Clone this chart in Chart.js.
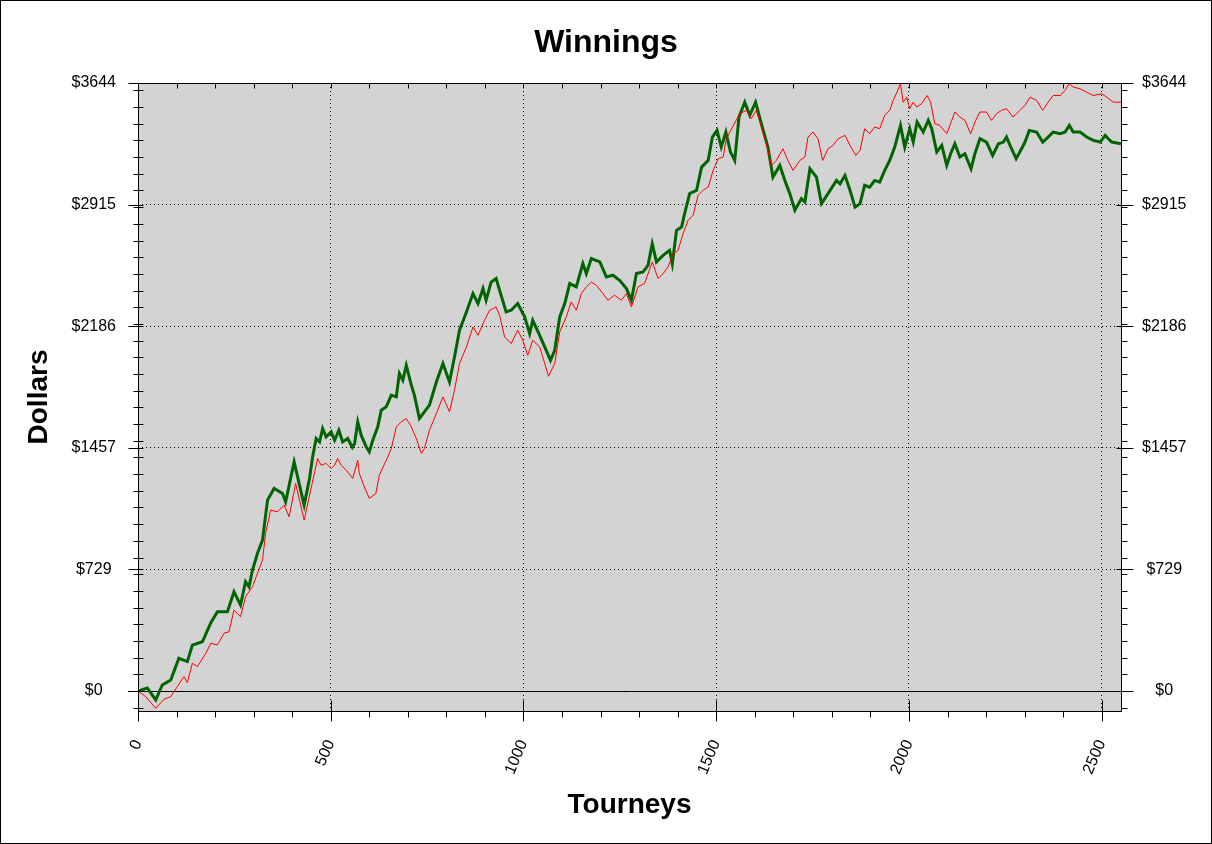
<!DOCTYPE html>
<html>
<head>
<meta charset="utf-8">
<title>Winnings</title>
<script src="https://cdn.jsdelivr.net/npm/chart.js@4.4.1/dist/chart.umd.min.js"></script>
<style>
    html, body { margin: 0; padding: 0; background: #fff; }
    #wrap { width: 1212px; height: 844px; box-sizing: border-box; border: 1px solid #000; }
    canvas { display: block; }
</style>
</head>
<body>
<div id="wrap"><canvas id="winningsChart" width="1210" height="842"></canvas></div>
<script>

// tick labels
const xTicks = [0, 500, 1000, 1500, 2000, 2500];
const yTicks = [0, 729, 1457, 2186, 2915, 3644];
const yTickLabels = ["$0", "$729", "$1457", "$2186", "$2915", "$3644"];

// red series
const redTourneys = [0, 20, 46, 67, 85, 102, 119, 128, 141, 154, 176, 189, 206, 223, 236, 249, 266, 279, 297, 310,
    323, 331, 344, 362, 379, 392, 409, 431, 448, 466, 475, 488, 501, 510, 518, 527, 540, 557, 570, 574,
    587, 600, 617, 626, 644, 657, 670, 683, 696, 709, 722, 735, 743, 756, 774, 791, 808, 821, 834, 852,
    869, 882, 899, 912, 929, 938, 951, 968, 985, 998, 1011, 1024, 1042, 1055, 1065, 1081, 1094, 1111, 1124, 1137,
    1150, 1163, 1176, 1189, 1206, 1219, 1236, 1254, 1267, 1280, 1297, 1314, 1334, 1349, 1362, 1375, 1388, 1401, 1414, 1427,
    1440, 1453, 1466, 1479, 1492, 1505, 1518, 1526, 1561, 1578, 1591, 1604, 1617, 1630, 1643, 1656, 1673, 1686, 1699, 1717,
    1730, 1738, 1751, 1764, 1776, 1790, 1803, 1816, 1834, 1847, 1862, 1873, 1885, 1898, 1911, 1924, 1937, 1950, 1959, 1969,
    1978, 1985, 1994, 2002, 2011, 2020, 2033, 2047, 2056, 2067, 2080, 2098, 2111, 2119, 2132, 2145, 2160, 2171, 2184, 2201,
    2214, 2227, 2240, 2253, 2270, 2288, 2301, 2314, 2331, 2347, 2361, 2374, 2392, 2405, 2415, 2426, 2444, 2461, 2478, 2500,
    2513, 2530, 2550];
const redDollars = [0, -34, -104, -50, -34, 26, 86, 50, 166, 146, 226, 286, 276, 346, 355, 485, 445, 565, 625, 705,
    785, 944, 1084, 1074, 1114, 1044, 1244, 1024, 1204, 1393, 1353, 1364, 1334, 1353, 1393, 1353, 1324, 1274, 1383, 1304,
    1224, 1154, 1184, 1294, 1383, 1453, 1583, 1613, 1633, 1583, 1513, 1424, 1453, 1563, 1663, 1763, 1673, 1803, 1963, 2062,
    2182, 2132, 2222, 2282, 2302, 2252, 2122, 2082, 2162, 2102, 2012, 2102, 2062, 1963, 1886, 1963, 2152, 2242, 2332, 2282,
    2382, 2422, 2451, 2432, 2382, 2342, 2372, 2342, 2382, 2302, 2422, 2442, 2571, 2472, 2501, 2541, 2621, 2641, 2741, 2821,
    2851, 2971, 3001, 3020, 3120, 3190, 3200, 3310, 3460, 3480, 3430, 3480, 3380, 3280, 3150, 3180, 3250, 3180, 3120, 3180,
    3200, 3320, 3350, 3310, 3180, 3250, 3270, 3310, 3330, 3270, 3210, 3240, 3370, 3340, 3380, 3370, 3450, 3480, 3540, 3589,
    3640, 3529, 3559, 3490, 3529, 3500, 3520, 3569, 3529, 3400, 3390, 3340, 3420, 3470, 3440, 3420, 3340, 3410, 3470, 3470,
    3420, 3460, 3480, 3490, 3440, 3480, 3510, 3559, 3540, 3480, 3529, 3569, 3569, 3599, 3640, 3620, 3609, 3589, 3569, 3579,
    3559, 3529, 3529];

// green series
const greenTourneys = [0, 24, 46, 63, 85, 106, 128, 141, 167, 189, 206, 232, 249, 266, 279, 288, 297, 310, 323, 336,
    353, 375, 383, 405, 431, 445, 453, 462, 471, 479, 488, 501, 510, 521, 531, 544, 556, 562, 570, 579,
    592, 600, 609, 622, 631, 644, 657, 670, 678, 687, 696, 709, 717, 730, 743, 756, 765, 774, 791, 808,
    821, 834, 852, 869, 882, 895, 903, 916, 929, 938, 955, 968, 985, 1003, 1016, 1024, 1042, 1059, 1070, 1081,
    1094, 1107, 1120, 1137, 1154, 1163, 1176, 1198, 1215, 1232, 1250, 1267, 1280, 1293, 1310, 1323, 1334, 1345, 1362, 1379,
    1386, 1397, 1410, 1418, 1431, 1449, 1462, 1479, 1490, 1502, 1513, 1525, 1537, 1548, 1559, 1574, 1587, 1602, 1617, 1634,
    1647, 1665, 1678, 1691, 1704, 1721, 1730, 1743, 1760, 1773, 1790, 1812, 1821, 1834, 1847, 1860, 1873, 1885, 1898, 1911,
    1924, 1937, 1950, 1963, 1978, 1989, 2002, 2011, 2021, 2037, 2050, 2059, 2072, 2085, 2098, 2108, 2119, 2132, 2145, 2161,
    2171, 2184, 2201, 2217, 2232, 2245, 2253, 2266, 2278, 2292, 2301, 2312, 2331, 2347, 2361, 2374, 2392, 2405, 2416, 2426,
    2444, 2461, 2478, 2496, 2509, 2517, 2526, 2550];
const greenDollars = [0, 18, -54, 36, 66, 196, 176, 275, 295, 409, 475, 475, 595, 515, 655, 625, 725, 825, 904, 1144,
    1214, 1184, 1134, 1373, 1114, 1274, 1403, 1513, 1493, 1573, 1523, 1553, 1503, 1563, 1493, 1513, 1460, 1483, 1613, 1533,
    1463, 1433, 1503, 1583, 1683, 1703, 1773, 1763, 1903, 1863, 1952, 1833, 1773, 1633, 1673, 1713, 1783, 1852, 1963, 1852,
    2002, 2162, 2272, 2382, 2322, 2412, 2342, 2451, 2472, 2402, 2272, 2282, 2322, 2242, 2142, 2222, 2132, 2042, 1982, 2042,
    2242, 2322, 2442, 2422, 2562, 2502, 2592, 2572, 2482, 2492, 2460, 2412, 2342, 2502, 2511, 2551, 2681, 2571, 2611, 2641,
    2561, 2761, 2781, 2861, 2981, 3001, 3140, 3180, 3320, 3360, 3260, 3350, 3230, 3180, 3440, 3529, 3450, 3529, 3400, 3260,
    3080, 3150, 3060, 2981, 2881, 2951, 2931, 3130, 3080, 2921, 2981, 3060, 3040, 3090, 3001, 2900, 2921, 3031, 3020, 3060,
    3050, 3120, 3180, 3260, 3390, 3260, 3370, 3290, 3410, 3350, 3420, 3370, 3230, 3270, 3150, 3220, 3280, 3200, 3220, 3130,
    3220, 3310, 3290, 3210, 3280, 3290, 3320, 3250, 3190, 3250, 3290, 3360, 3350, 3290, 3320, 3350, 3340, 3350, 3390, 3350,
    3350, 3320, 3300, 3290, 3330, 3310, 3290, 3280];

const labelFont = { family: "'Liberation Sans', Arial, sans-serif", size: 16 };
const titleFont = { family: "'Liberation Sans', Arial, sans-serif", size: 28, weight: "bold" };

function points(xs, ys){
    return xs.map((x, i) => ({ x: x, y: ys[i] }));
}

function hline(ctx, x1, x2, y){
    ctx.beginPath();
    ctx.moveTo(x1, y);
    ctx.lineTo(x2, y);
    ctx.stroke();
}

function vline(ctx, x, y1, y2){
    ctx.beginPath();
    ctx.moveTo(x, y1);
    ctx.lineTo(x, y2);
    ctx.stroke();
}

// gray plot area, zero line, frame and the small tick marks
const framePlugin = {
    id: "frame",
    beforeDraw(chart){
        const ctx = chart.ctx;
        const a = chart.chartArea;
        ctx.save();
        ctx.fillStyle = "#d3d3d3";
        ctx.fillRect(a.left, a.top, a.right - a.left, a.bottom - a.top);
        ctx.restore();
    },
    beforeDatasetsDraw(chart){
        const ctx = chart.ctx;
        const a = chart.chartArea;
        const y0 = Math.round(chart.scales.y.getPixelForValue(0)) + 0.5;
        ctx.save();
        ctx.strokeStyle = "#000";
        ctx.lineWidth = 1;
        hline(ctx, a.left - 10, a.right + 12, y0);
        ctx.restore();
    },
    afterDatasetsDraw(chart){
        const ctx = chart.ctx;
        const a = chart.chartArea;
        const xs = chart.scales.x;
        const ys = chart.scales.y;
        const L = Math.round(a.left) + 0.5;
        const R = Math.round(a.right) + 0.5;
        const T = Math.round(a.top) + 0.5;
        const B = Math.round(a.bottom) + 0.5;
        ctx.save();
        ctx.strokeStyle = "#000";
        ctx.lineWidth = 1;
        ctx.setLineDash([]);
        ctx.strokeRect(L, T, R - L, B - T);

        for (let v = -100; v <= 3600; v += 100){
            const p = Math.round(ys.getPixelForValue(v)) + 0.5;
            hline(ctx, L - 5, L + 5, p);
            hline(ctx, R, R + 6, p);
        }
        yTicks.forEach(v => {
            const p = Math.round(ys.getPixelForValue(v)) + 0.5;
            hline(ctx, L - 10, L + 5, p);
            hline(ctx, R - 5, R + 12, p);
        });

        for (let t = 0; t <= 2500; t += 100){
            const p = Math.round(xs.getPixelForValue(t)) + 0.5;
            vline(ctx, p, B, B + 6);
            vline(ctx, p, T, T + 5);
        }
        xTicks.forEach(t => {
            const p = Math.round(xs.getPixelForValue(t)) + 0.5;
            vline(ctx, p, B - 11, B + 10);
        });
        ctx.restore();
    }
};

// dotted grid, but not on the zero line or along the frame
function dotted(ctx){
    if (!ctx.tick) return "#000";
    const v = ctx.tick.value;
    if (v === 0 || v === 3644) return "rgba(0,0,0,0)";
    return "#000";
}

function drawChart(){

    new Chart(

        document.getElementById("winningsChart"),

        {

            type: "line",

            data: {

                datasets: [

                    {
                        label: "red",
                        data: points(redTourneys, redDollars),
                        borderColor: "#ff0000",
                        borderWidth: 1,
                        pointRadius: 0,
                        tension: 0
                    },

                    {
                        label: "green",
                        data: points(greenTourneys, greenDollars),
                        borderColor: "#006400",
                        borderWidth: 3,
                        pointRadius: 0,
                        tension: 0
                    }

                ]

            },

            options: {

                responsive: false,
                animation: false,
                devicePixelRatio: 1,
                layout: { padding: 0 },

                plugins: {
                    legend: { display: false },
                    tooltip: { enabled: false },
                    title: {
                        display: true,
                        text: "Winnings",
                        color: "#000",
                        font: { family: "'Liberation Sans', Arial, sans-serif", size: 32, weight: "bold" },
                        padding: { top: 23, bottom: 20.6 }
                    }
                },

                scales: {

                    x: {
                        type: "linear",
                        position: "bottom",
                        min: 0,
                        max: 2550,
                        afterBuildTicks: s => { s.ticks = xTicks.map(v => ({ value: v })); },
                        afterFit: s => { s.height = 132; },
                        grid: { color: dotted, drawTicks: false, lineWidth: 1 },
                        border: { display: false, dash: [1, 3] },
                        ticks: {
                            color: "#000",
                            font: labelFont,
                            padding: 26,
                            minRotation: 67,
                            maxRotation: 67,
                            callback: v => String(v)
                        },
                        title: {
                            display: true,
                            text: "Tourneys",
                            color: "#000",
                            font: titleFont,
                            padding: { top: 0, bottom: 21 }
                        }
                    },

                    y: {
                        type: "linear",
                        position: "left",
                        min: -120,
                        max: 3644,
                        afterBuildTicks: s => { s.ticks = yTicks.map(v => ({ value: v })); },
                        afterFit: s => { s.width = 137; },
                        grid: { color: dotted, drawTicks: false, lineWidth: 1 },
                        border: { display: false, dash: [1, 3] },
                        ticks: {
                            color: "#000",
                            font: labelFont,
                            padding: 22,
                            crossAlign: "center",
                            callback: (v, i) => yTickLabels[i]
                        },
                        title: {
                            display: true,
                            text: "Dollars",
                            color: "#000",
                            font: titleFont,
                            padding: { top: 21, bottom: 0 }
                        }
                    },

                    y2: {
                        type: "linear",
                        position: "right",
                        min: -120,
                        max: 3644,
                        afterBuildTicks: s => { s.ticks = yTicks.map(v => ({ value: v })); },
                        afterFit: s => { s.width = 90; },
                        grid: { drawOnChartArea: false, drawTicks: false },
                        border: { display: false },
                        ticks: {
                            color: "#000",
                            font: labelFont,
                            padding: 21,
                            crossAlign: "center",
                            callback: (v, i) => yTickLabels[i]
                        }
                    }

                }

            },

            plugins: [framePlugin]

        }

    );

}

drawChart();

</script>
</body>
</html>
